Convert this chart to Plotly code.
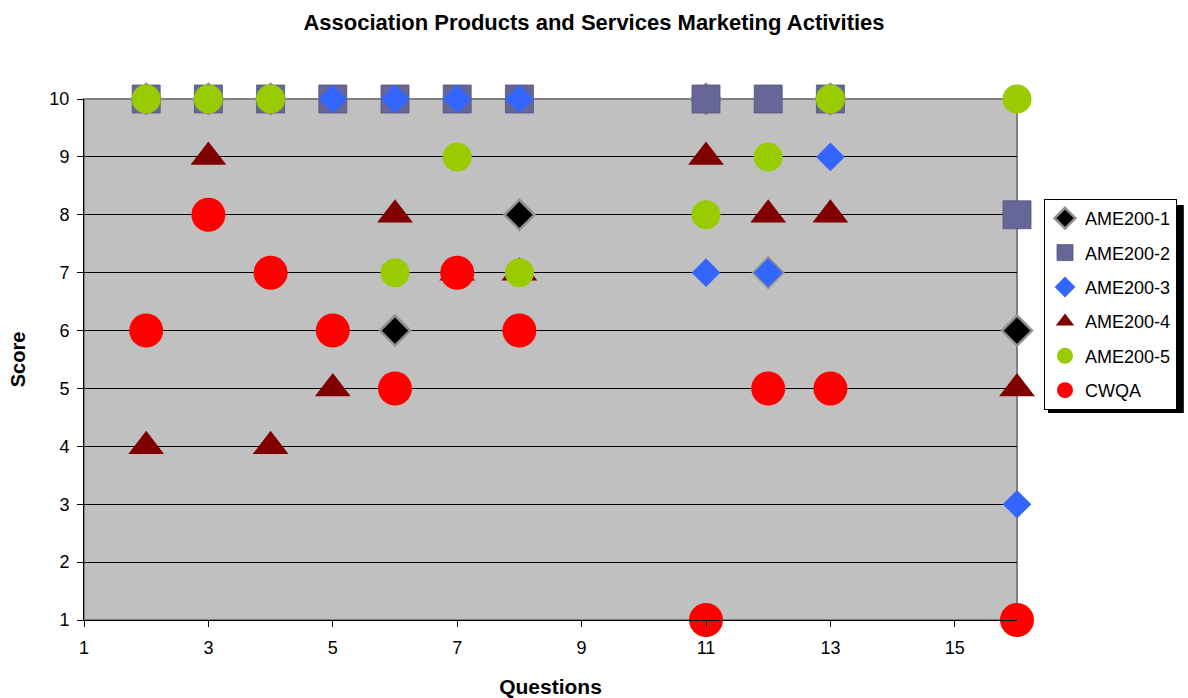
import plotly.graph_objects as go

# Question numbers that were scored
questions = [2, 3, 4, 5, 6, 7, 8, 11, 12, 13, 16]

# Scores per association
ame200_1 = [10, 10, 10, 6, 6, 7, 8, 10, 7, 10, 6]
ame200_2 = [10, 10, 10, 10, 10, 10, 10, 10, 10, 10, 8]
ame200_3 = [10, 10, 10, 10, 10, 10, 10, 7, 7, 9, 3]
ame200_4 = [4, 9, 4, 5, 8, 7, 7, 9, 8, 8, 5]
ame200_5 = [10, 10, 10, 6, 7, 9, 7, 8, 9, 10, 10]
cwqa = [6, 8, 7, 6, 5, 7, 6, 1, 5, 5, 1]

x_ticks = [1, 3, 5, 7, 9, 11, 13, 15]
y_ticks = [1, 2, 3, 4, 5, 6, 7, 8, 9, 10]

FONT = "Liberation Sans, Arial, sans-serif"

series = [
    ("AME200-1", ame200_1, dict(symbol="diamond", size=23, color="#000000",
                                line=dict(color="#909090", width=2.5))),
    ("AME200-2", ame200_2, dict(symbol="square", size=28, color="#666699",
                                line=dict(color="#55557f", width=0.8))),
    ("AME200-3", ame200_3, dict(symbol="diamond", size=22, color="#3366FF",
                                line=dict(width=0))),
    ("AME200-4", ame200_4, dict(symbol="triangle-up", size=31, color="#800000",
                                line=dict(width=0))),
    ("AME200-5", ame200_5, dict(symbol="circle", size=29, color="#99CC00",
                                line=dict(width=0))),
    ("CWQA", cwqa, dict(symbol="circle", size=34, color="#FF0000",
                        line=dict(width=0))),
]

fig = go.Figure()
for name, vals, marker in series:
    fig.add_trace(go.Scatter(
        x=questions, y=vals, mode="markers", name=name, marker=marker,
        cliponaxis=False, legendgroup=name,
    ))

# plot-area frame
fig.add_shape(type="rect", xref="paper", yref="paper", x0=0, x1=1, y0=0, y1=1,
              line=dict(color="#808080", width=2), layer="below")

# legend drop shadow (paper coords: plot area is 934 x 521 px)
PW, PH, L, B = 934.0, 521.0, 84.0, 620.0
fig.add_shape(type="rect", xref="paper", yref="paper",
              x0=(1049 - L) / PW, x1=(1185 - L) / PW,
              y0=(B - 413) / PH, y1=(B - 205) / PH,
              line=dict(width=0), fillcolor="#000000", layer="above")

fig.update_layout(
    width=1188, height=698,
    margin=dict(l=84, r=170, t=99, b=78),
    paper_bgcolor="white",
    plot_bgcolor="#C0C0C0",
    font=dict(family=FONT, size=18, color="black"),
    title=dict(text="<b>Association Products and Services Marketing Activities</b>",
               x=0.5, xanchor="center", y=0.968, yanchor="middle",
               font=dict(size=22)),
    showlegend=True,
    legend=dict(
        x=(1044 - L) / PW, xanchor="left", y=(B - 199) / PH, yanchor="top",
        bgcolor="white", bordercolor="black", borderwidth=1,
        font=dict(size=18), tracegroupgap=8,
        itemwidth=30,
    ),
    xaxis=dict(
        range=[1, 16], tickvals=x_ticks, showgrid=False, zeroline=False,
        showline=True, linecolor="#000000", linewidth=1,
        ticks="outside", ticklen=6, tickcolor="black",
        ticklabelstandoff=5, automargin=False,
        title=dict(text="<b>Questions</b>", font=dict(size=21), standoff=27),
    ),
    yaxis=dict(
        range=[1, 10], tickvals=y_ticks, showgrid=True, gridcolor="#000000",
        gridwidth=1, zeroline=False,
        showline=True, linecolor="#000000", linewidth=1,
        ticks="outside", ticklen=6, tickcolor="black",
        ticklabelstandoff=4, automargin=False,
        title=dict(text="<b>Score</b>", font=dict(size=20), standoff=18),
    ),
)

fig.write_html("out.html")
